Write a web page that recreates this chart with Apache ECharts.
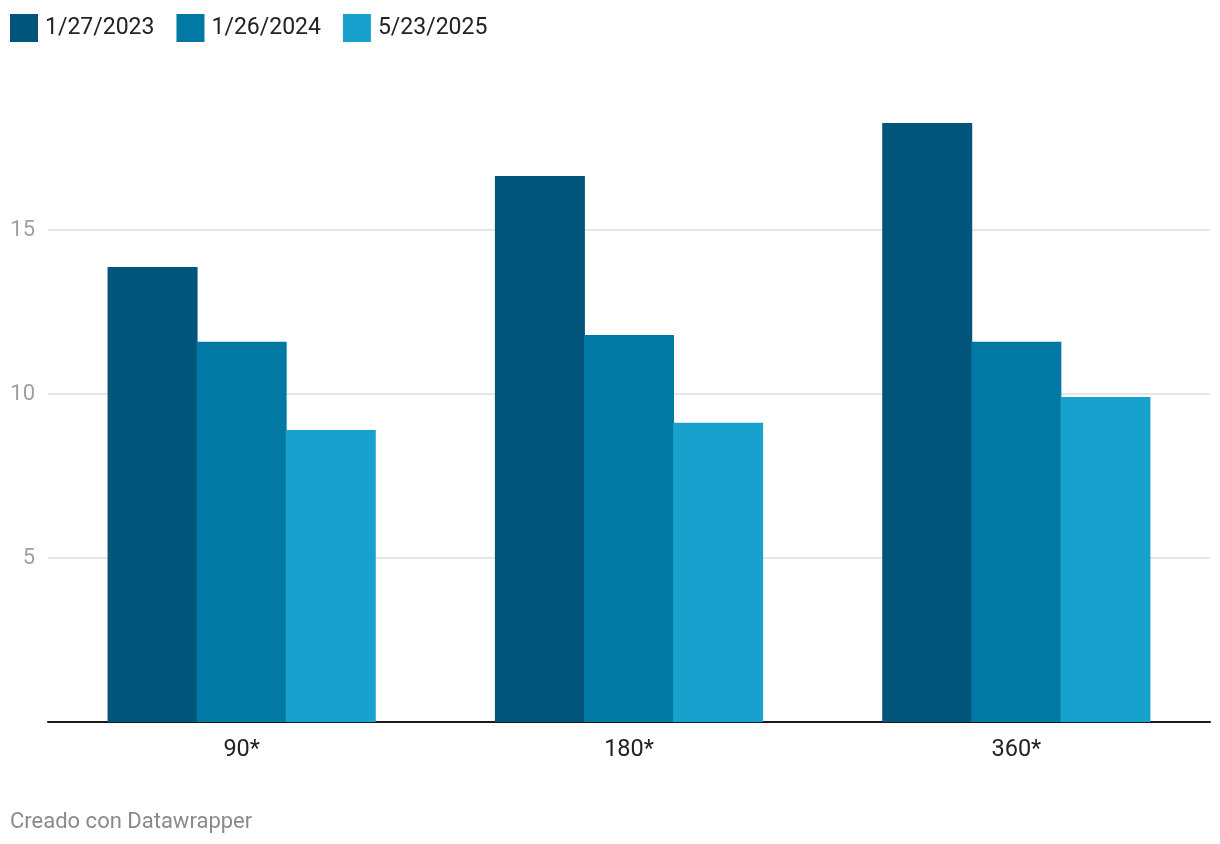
<!DOCTYPE html>
<html>
<head>
<meta charset="utf-8">
<script src="https://cdn.jsdelivr.net/npm/echarts@6/dist/echarts.min.js"></script>
<style>html,body{margin:0;padding:0;background:#fff}#c{width:1220px;height:844px}</style>
</head>
<body>
<div id="c"></div>
<script>
const categories = ['90*', '180*', '360*'];
const seriesNames = ['1/27/2023', '1/26/2024', '5/23/2025'];
const values2023 = [13.87, 16.65, 18.26];
const values2024 = [11.59, 11.80, 11.59];
const values2025 = [8.90, 9.12, 9.91];
const colors = ['#01547a', '#0279a5', '#18a1cd'];
const footer = 'Creado con Datawrapper';

const chart = echarts.init(document.getElementById('c'));
const data = [values2023, values2024, values2025];
chart.setOption({
  animation: false,
  textStyle: { fontFamily: 'Roboto' },
  legend: {
    left: 10, top: 14, padding: 0, itemWidth: 28, itemHeight: 28, itemGap: 22,
    icon: 'rect',
    textStyle: { fontSize: 23, color: '#222', fontFamily: 'Roboto', padding: [3, 0, 0, 2] },
    data: seriesNames
  },
  grid: { left: 48, right: 10, top: 115.2, bottom: 122, containLabel: false },
  xAxis: {
    type: 'category', data: categories,
    axisLine: { lineStyle: { color: '#1a1a1a', width: 2 } },
    axisTick: { show: false },
    axisLabel: { fontSize: 23.5, color: '#222', margin: 16, fontFamily: 'Roboto' }
  },
  yAxis: {
    type: 'value', min: 0, max: 18.5, interval: 5,
    axisLine: { show: false }, axisTick: { show: false },
    axisLabel: { fontSize: 22, color: '#a0a0a0', showMinLabel: false, showMaxLabel: false, margin: 13, fontFamily: 'Roboto' },
    splitLine: { lineStyle: { color: '#e6e6e6', width: 2 }, showMinLine: false, showMaxLine: false }
  },
  series: seriesNames.map((n, i) => ({
    name: n, type: 'bar', data: data[i], barWidth: 90, barGap: '-1%', z: 2 + i,
    itemStyle: { color: colors[i] }
  })),
  graphic: [{
    type: 'text', left: 10, top: 811,
    style: { text: footer, fontSize: 22, fill: '#8a8a8a', fontFamily: 'Roboto' }
  }]
});
</script>
</body>
</html>
